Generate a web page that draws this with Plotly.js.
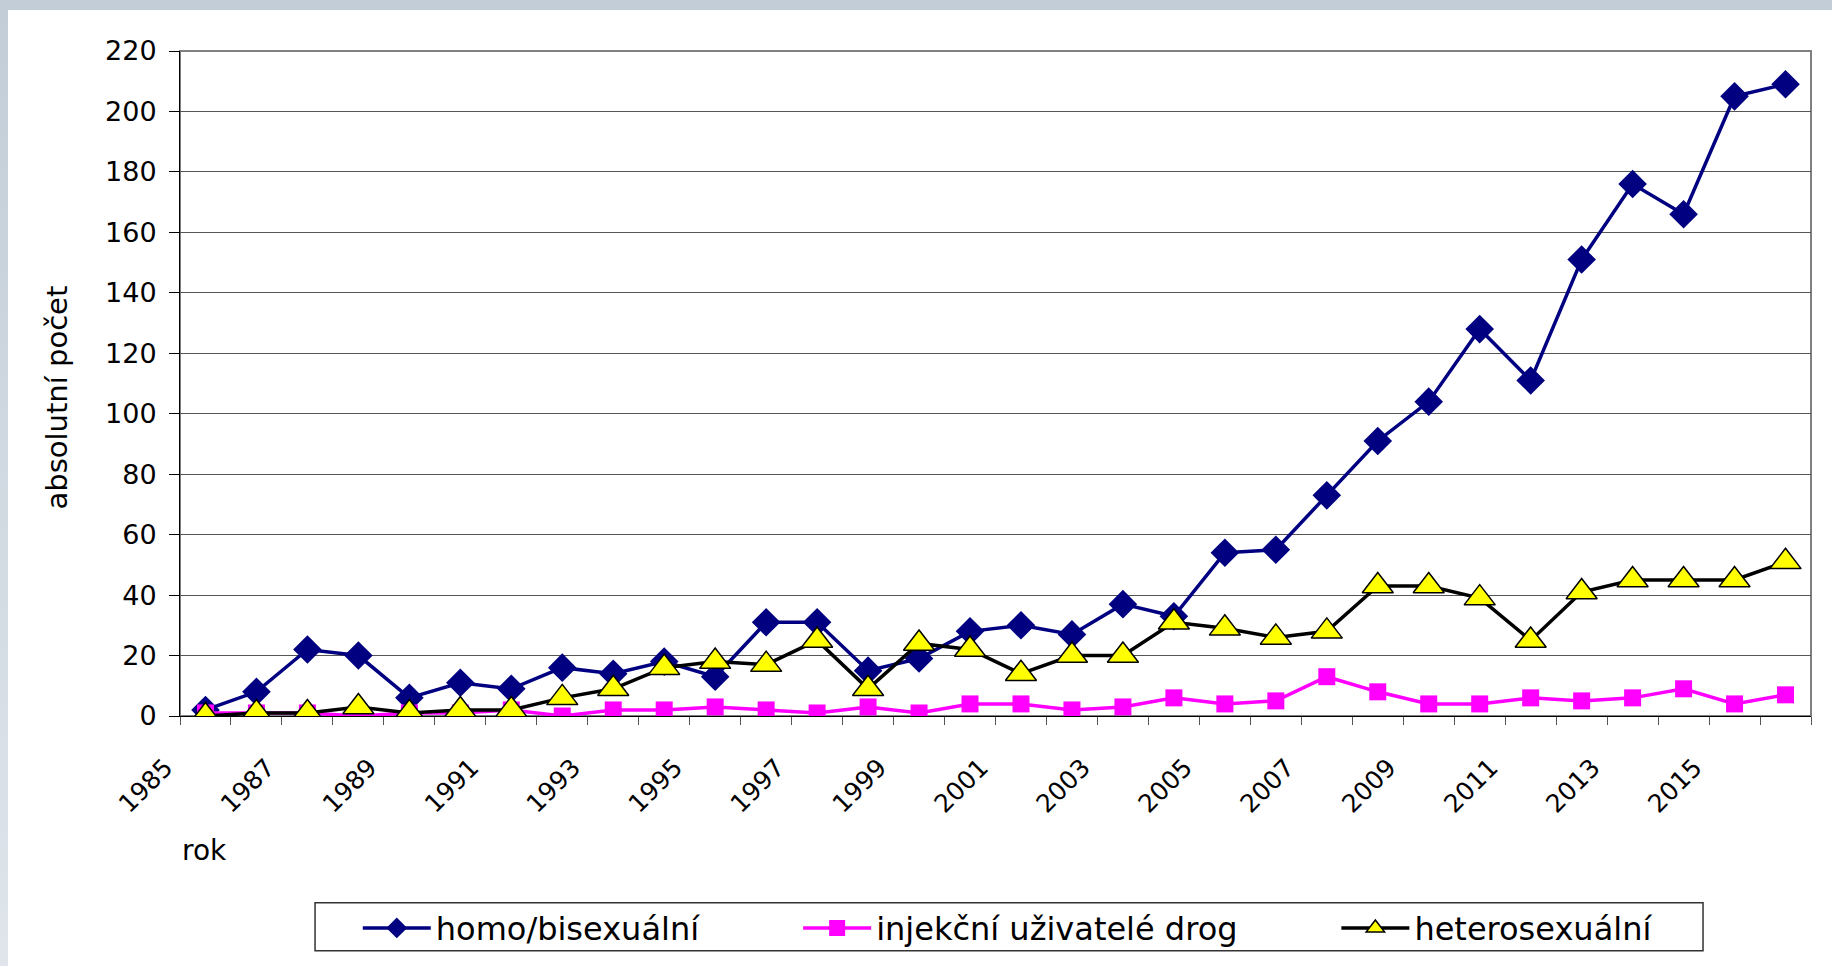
<!DOCTYPE html>
<html>
<head>
<meta charset="utf-8">
<script src="https://cdn.plot.ly/plotly-3.0.1.min.js"></script>
<style>
  html, body { margin: 0; padding: 0; width: 1832px; height: 966px; overflow: hidden; }
  body { background: linear-gradient(to bottom, #c2cdd7 0%, #dfe5eb 100%); }
  #chart { position: absolute; left: 8px; top: 10px; width: 1824px; height: 956px; background: #fff; }
</style>
</head>
<body>
<div id="chart"></div>
<script>
// rok
var years = [1985, 1986, 1987, 1988, 1989, 1990, 1991, 1992, 1993, 1994, 1995,
    1996, 1997, 1998, 1999, 2000, 2001, 2002, 2003, 2004, 2005, 2006,
    2007, 2008, 2009, 2010, 2011, 2012, 2013, 2014, 2015, 2016];
// absolutni pocet podle zpusobu prenosu
var homoBi = [2, 8, 22, 20, 6, 11, 9, 16, 14, 18, 13,
    31, 31, 15, 19, 28, 30, 27, 37, 33, 54, 55,
    73, 91, 104, 128, 111, 151, 176, 166, 205, 209];
var injekcni = [1, 1, 1, 0, 1, 1, 2, 0, 2, 2, 3,
    2, 1, 3, 1, 4, 4, 2, 3, 6, 4, 5,
    13, 8, 4, 4, 6, 5, 6, 9, 4, 7];
var hetero = [0, 1, 1, 3, 1, 2, 2, 6, 9, 16, 18,
    17, 25, 9, 24, 22, 14, 20, 20, 31, 29, 26,
    28, 43, 43, 39, 25, 41, 45, 45, 45, 51];
var yearLabels = [1985, 1987, 1989, 1991, 1993, 1995, 1997, 1999,
    2001, 2003, 2005, 2007, 2009, 2011, 2013, 2015];
var seriesNames = ['homo/bisexuální', 'injekční uživatelé drog', 'heterosexuální'];

var font = 'DejaVu Sans';

var data = [
    { x: years, y: homoBi, name: seriesNames[0], type: 'scatter', mode: 'lines+markers',
      line: {color: '#000080', width: 3.5},
      marker: {symbol: 'diamond', size: 22, color: '#000080'},
      legend: 'legend' },
    { x: years, y: injekcni, name: seriesNames[1], type: 'scatter', mode: 'lines+markers',
      line: {color: '#ff00ff', width: 3.5},
      marker: {symbol: 'square', size: 17, color: '#ff00ff'},
      legend: 'legend2' },
    { x: years, y: hetero, name: seriesNames[2], type: 'scatter', mode: 'lines+markers',
      line: {color: '#000000', width: 3.5},
      marker: {symbol: 'triangle-up', size: 27, color: '#ffff00',
               line: {color: '#000000', width: 1.5}},
      legend: 'legend3' }
];

var legendBase = {
    orientation: 'h', yanchor: 'middle', xanchor: 'left', y: -0.317,
    bgcolor: 'rgba(0,0,0,0)', borderwidth: 0, itemwidth: 68,
    font: {family: font, size: 32, color: '#000'}
};

var layout = {
    width: 1824, height: 956,
    margin: {l: 172, r: 21, t: 41, b: 249},
    paper_bgcolor: '#ffffff', plot_bgcolor: '#ffffff',
    font: {family: font, color: '#000'},
    showlegend: true,
    legend: Object.assign({}, legendBase, {x: 0.109}),
    legend2: Object.assign({}, legendBase, {x: 0.379}),
    legend3: Object.assign({}, legendBase, {x: 0.709}),
    xaxis: {
        range: [1984.5, 2016.5],
        tickmode: 'array', tickvals: yearLabels, ticktext: yearLabels.map(String),
        tickangle: -45, ticks: '',
        ticklabelshift: -40, ticklabelstandoff: 26,
        tickfont: {family: font, size: 25, color: '#000'},
        minor: {tick0: 1984.5, dtick: 1, ticks: 'outside', ticklen: 8, tickwidth: 1, tickcolor: '#555', showgrid: false},
        showgrid: false, zeroline: false,
        showline: true, linecolor: '#000', linewidth: 1,
        fixedrange: true
    },
    yaxis: {
        range: [0, 220], dtick: 20, tick0: 0,
        ticks: 'outside', ticklen: 10, tickcolor: '#000', tickwidth: 1,
        ticklabelstandoff: 7,
        tickfont: {family: font, size: 27, color: '#000'},
        showgrid: true, gridcolor: '#555555', gridwidth: 1,
        zeroline: false, showline: true, linecolor: '#000', linewidth: 1,
        fixedrange: true
    },
    shapes: [
        {type: 'rect', xref: 'paper', yref: 'paper', x0: 0, x1: 1, y0: 0, y1: 1,
         line: {color: '#808080', width: 2}, layer: 'below'},
        {type: 'rect', xref: 'paper', yref: 'paper', x0: 0.0828, x1: 0.9338, y0: -0.2808, y1: -0.3529,
         line: {color: '#333333', width: 1.5}, fillcolor: 'rgba(0,0,0,0)'}
    ],
    annotations: [
        {text: 'absolutní počet', xref: 'paper', yref: 'paper', x: -0.0754, y: 0.479,
         xanchor: 'center', yanchor: 'middle', textangle: -90, showarrow: false,
         font: {family: font, size: 29, color: '#000'}},
        {text: 'rok', xref: 'paper', yref: 'paper', x: 0, y: -0.203,
         xanchor: 'left', yanchor: 'middle', showarrow: false,
         font: {family: font, size: 28, color: '#000'}}
    ]
};

Plotly.newPlot('chart', data, layout, {displayModeBar: false, staticPlot: true});
</script>
</body>
</html>
